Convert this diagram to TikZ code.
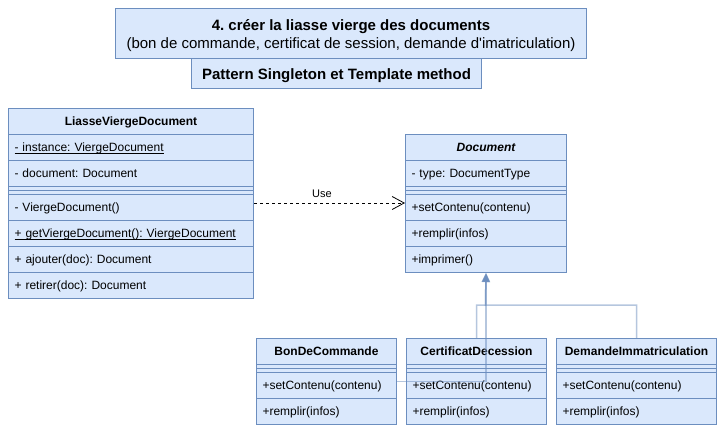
\documentclass[tikz,border=0pt]{standalone}
\usepackage{fontspec}
\setmainfont{Liberation Sans}[Ligatures=TeXOff]
\usetikzlibrary{arrows.meta}
\definecolor{fillc}{HTML}{DAE8FC}
\definecolor{strokec}{HTML}{6C8EBF}
\frenchspacing
\newcommand\ulx[1]{\setbox0\hbox{#1}\rlap{\rule[-2pt]{\wd0}{0.8pt}}\box0}
\begin{document}
\begin{tikzpicture}[x=1pt,y=-1pt, line width=1pt,
  txt/.style={font=\fontsize{12}{14}\selectfont},
  box/.style={draw=strokec, fill=fillc, anchor=north west, inner ysep=0pt, inner xsep=6pt},
  cell/.style={box, txt, minimum height=26pt, align=left, text height=11pt, text depth=2.2pt},
  head/.style={box, minimum height=26pt, align=center, text height=11pt, text depth=2.2pt, font=\bfseries\fontsize{12}{14}\selectfont},
  sepbox/.style={box, minimum height=8pt, inner sep=0pt},
  wA/.style={minimum width=245pt, text width=233pt},
  wB/.style={minimum width=161pt, text width=149pt},
  wC/.style={minimum width=140pt, text width=128pt},
  wD/.style={minimum width=160pt, text width=148pt},
  useedge/.style={draw=black, line width=0.8pt, dash pattern=on 3pt off 3pt, -{Straight Barb[length=12pt,width=13pt,line width=0.8pt]}},
  inh/.style={draw=strokec, draw opacity=0.5, line width=1.5pt, -{Triangle[length=9pt,width=8pt]}},
]
\useasboundingbox (0,0) rectangle (725,436);
\fill[white] (0,0) rectangle (725,436);

% titles
\node[box, minimum width=471pt, minimum height=50pt, align=center, text height=32pt, text depth=2pt, font=\fontsize{15}{17.5}\selectfont] (t1) at (115,8)
  {\textbf{4. créer la liasse vierge des documents}\\(bon de commande, certificat de session, demande d'imatriculation)};
\node[box, minimum width=290pt, minimum height=30pt, align=center, text height=14pt, text depth=2pt, font=\bfseries\fontsize{15}{18}\selectfont] (t2) at (191,58)
  {Pattern Singleton et Template method};

% LiasseViergeDocument
\node[head, wA] (lh) at (8,108) {LiasseViergeDocument};
\node[cell, wA] (l1) at (8,134) {\ulx{- instance: ViergeDocument}};
\node[cell, wA] (l2) at (8,160) {- document: Document};
\node[sepbox, wA] (ls) at (8,186) {};
\draw[strokec] (ls.west) -- (ls.east);
\node[cell, wA] (l3) at (8,194) {- ViergeDocument()};
\node[cell, wA] (l4) at (8,220) {\ulx{+ getViergeDocument(): ViergeDocument}};
\node[cell, wA] (l5) at (8,246) {+ ajouter(doc): Document};
\node[cell, wA] (l6) at (8,272) {+ retirer(doc): Document};

% Document
\node[head, wB, font=\bfseries\itshape\fontsize{12}{14}\selectfont] (dh) at (405,134) {Document};
\node[cell, wB] (d1) at (405,160) {- type: DocumentType};
\node[sepbox, wB] (ds) at (405,186) {};
\draw[strokec] (ds.west) -- (ds.east);
\node[cell, wB] (d2) at (405,194) {+setContenu(contenu)};
\node[cell, wB] (d3) at (405,220) {+remplir(infos)};
\node[cell, wB] (d4) at (405,246) {+imprimer()};

% BonDeCommande
\node[head, wC] (bh) at (256,338) {BonDeCommande};
\node[sepbox, wC] (bs) at (256,364) {};
\draw[strokec] (bs.west) -- (bs.east);
\node[cell, wC] (b1) at (256,372) {+setContenu(contenu)};
\node[cell, wC] (b2) at (256,398) {+remplir(infos)};

% CertificatDecession
\node[head, wC] (ch) at (406,338) {CertificatDecession};
\node[sepbox, wC] (cs) at (406,364) {};
\draw[strokec] (cs.west) -- (cs.east);
\node[cell, wC] (c1) at (406,372) {+setContenu(contenu)};
\node[cell, wC] (c2) at (406,398) {+remplir(infos)};

% DemandeImmatriculation
\node[head, wD] (mh) at (556,338) {DemandeImmatriculation};
\node[sepbox, wD] (ms) at (556,364) {};
\draw[strokec] (ms.west) -- (ms.east);
\node[cell, wD] (m1) at (556,372) {+setContenu(contenu)};
\node[cell, wD] (m2) at (556,398) {+remplir(infos)};

% Use dependency
\draw[useedge] ([yshift=-9pt]l3.north east) -- node[pos=0.45, above=2pt, font=\fontsize{11}{13}\selectfont] {Use} ([yshift=-9pt]d2.north west);

% inheritance
\coordinate (join) at (485.5,305);
\draw[inh] ([yshift=4pt]b1.east) -| (d4.south);
\draw[inh] (ch.north) |- (join) -- (d4.south);
\draw[inh] (mh.north) |- (join) -- (d4.south);
\end{tikzpicture}
\end{document}
